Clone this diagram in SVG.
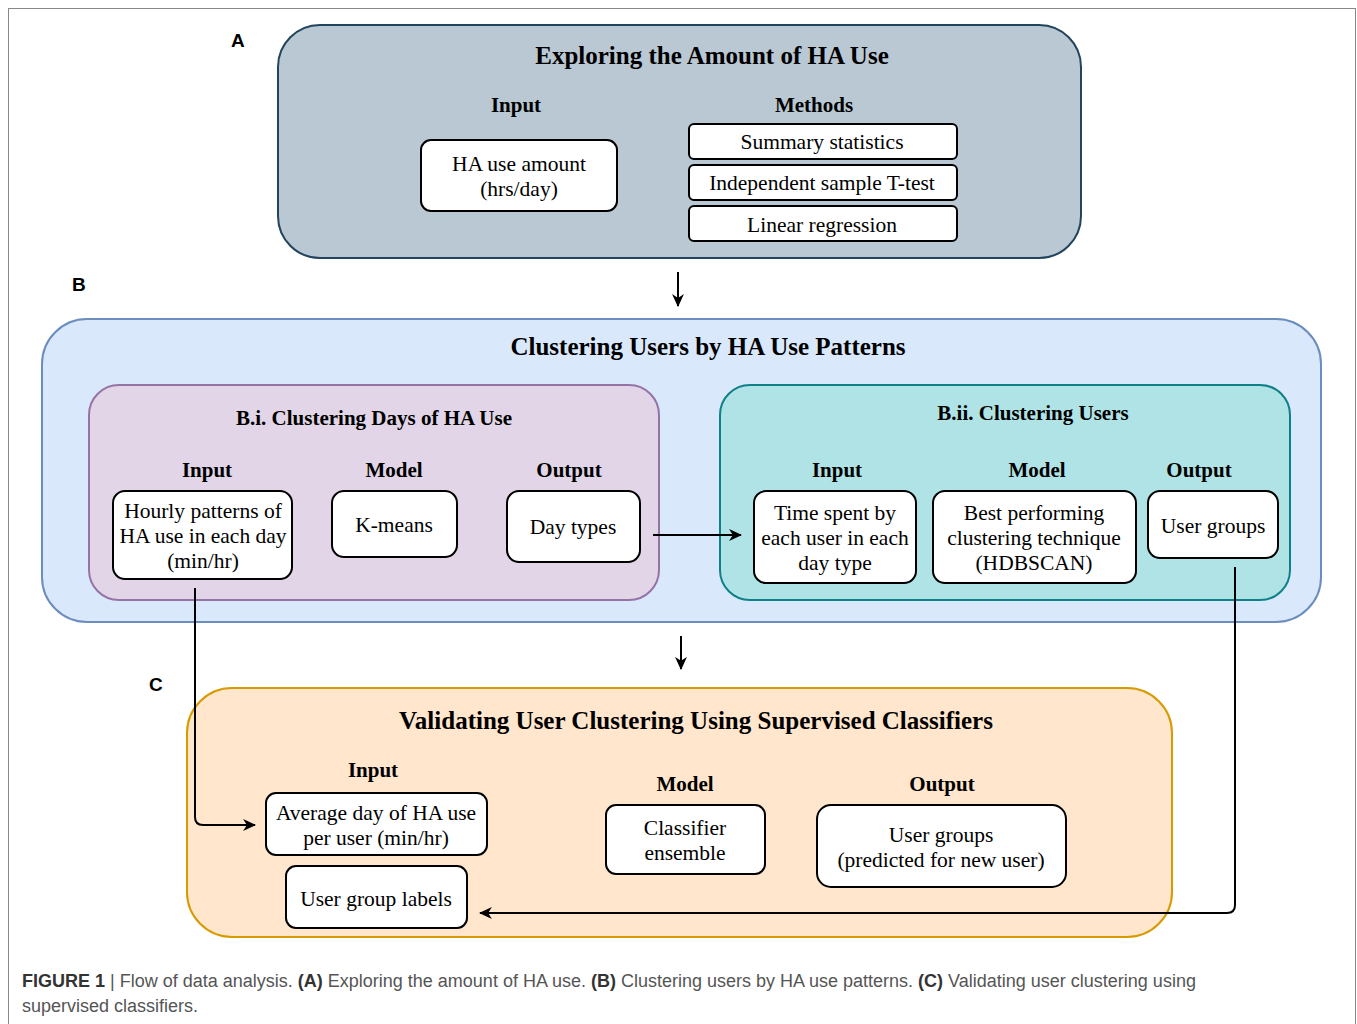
<svg xmlns="http://www.w3.org/2000/svg" width="1357" height="1024" viewBox="0 0 1357 1024">
<defs>
<marker id="ah" viewBox="0 0 12 12" refX="11" refY="6" markerWidth="13" markerHeight="13" markerUnits="userSpaceOnUse" orient="auto">
<path d="M0,0.5 L12,6 L0,11.5 L3.5,6 Z" fill="#000"/>
</marker>
<style>
.t{font-family:"Liberation Serif","Times New Roman",serif;fill:#000;text-anchor:middle}
.h1{font-size:25px;font-weight:bold}
.h2{font-size:21px;font-weight:bold}
.hd{font-size:21px;font-weight:bold}
.b{font-size:21.5px}
.box{fill:#fff;stroke:#000;stroke-width:2}
.lbl{font-family:"Liberation Sans",Arial,sans-serif;font-weight:bold;font-size:19px;fill:#000}
.cap{font-family:"Liberation Sans",Arial,sans-serif;font-size:18px;fill:#555}
.conn{fill:none;stroke:#000;stroke-width:2}
</style>
</defs>
<rect x="0" y="0" width="1357" height="1024" fill="#fff"/>
<rect x="8.5" y="8.5" width="1347" height="1030" fill="none" stroke="#888" stroke-width="1"/>

<text class="lbl" x="231" y="47">A</text>
<text class="lbl" x="72" y="291">B</text>
<text class="lbl" x="149" y="691">C</text>

<g id="groupA">
<rect x="278" y="25" width="803" height="233" rx="42" fill="#bac8d3" stroke="#23445d" stroke-width="2"/>
<text class="t h1" x="712" y="64">Exploring the Amount of HA Use</text>
<text class="t hd" x="516" y="112">Input</text>
<text class="t hd" x="814" y="112">Methods</text>
</g>
<g id="ha-use-amount">
<rect class="box" x="421" y="140" width="196" height="71" rx="10"/>
<text class="t b" x="519" y="171">HA use amount</text>
<text class="t b" x="519" y="196">(hrs/day)</text>
</g>
<g id="summary-statistics">
<rect class="box" x="689" y="124" width="268" height="35" rx="5"/>
<text class="t b" x="822" y="149">Summary statistics</text>
</g>
<g id="t-test">
<rect class="box" x="689" y="165" width="268" height="35" rx="5"/>
<text class="t b" x="822" y="190">Independent sample T-test</text>
</g>
<g id="linear-regression">
<rect class="box" x="689" y="206" width="268" height="35" rx="5"/>
<text class="t b" x="822" y="232">Linear regression</text>
</g>

<g id="groupB">
<rect x="42" y="319" width="1279" height="303" rx="45" fill="#dae8fc" stroke="#6c8ebf" stroke-width="2"/>
<text class="t h1" x="708" y="355">Clustering Users by HA Use Patterns</text>
</g>
<g id="groupBi">
<rect x="89" y="385" width="570" height="215" rx="30" fill="#e1d5e7" stroke="#9673a6" stroke-width="2"/>
<text class="t h2" x="374" y="425">B.i. Clustering Days of HA Use</text>
<text class="t hd" x="207" y="477">Input</text>
<text class="t hd" x="394" y="477">Model</text>
<text class="t hd" x="569" y="477">Output</text>
</g>
<g id="hourly-patterns">
<rect class="box" x="113" y="491" width="179" height="88" rx="12"/>
<text class="t b" x="203" y="518">Hourly patterns of</text>
<text class="t b" x="203" y="543">HA use in each day</text>
<text class="t b" x="203" y="568">(min/hr)</text>
</g>
<g id="k-means">
<rect class="box" x="332" y="491" width="125" height="66" rx="12"/>
<text class="t b" x="394" y="532">K-means</text>
</g>
<g id="day-types">
<rect class="box" x="507" y="491" width="133" height="71" rx="12"/>
<text class="t b" x="573" y="534">Day types</text>
</g>
<g id="groupBii">
<rect x="720" y="385" width="570" height="215" rx="30" fill="#b0e3e6" stroke="#0e8088" stroke-width="2"/>
<text class="t h2" x="1033" y="420">B.ii. Clustering Users</text>
<text class="t hd" x="837" y="477">Input</text>
<text class="t hd" x="1037" y="477">Model</text>
<text class="t hd" x="1199" y="477">Output</text>
</g>
<g id="time-spent">
<rect class="box" x="754" y="491" width="162" height="92" rx="12"/>
<text class="t b" x="835" y="520">Time spent by</text>
<text class="t b" x="835" y="545">each user in each</text>
<text class="t b" x="835" y="570">day type</text>
</g>
<g id="best-performing">
<rect class="box" x="933" y="491" width="203" height="92" rx="12"/>
<text class="t b" x="1034" y="520">Best performing</text>
<text class="t b" x="1034" y="545">clustering technique</text>
<text class="t b" x="1034" y="570">(HDBSCAN)</text>
</g>
<g id="user-groups">
<rect class="box" x="1148" y="491" width="130" height="67" rx="12"/>
<text class="t b" x="1213" y="533">User groups</text>
</g>

<g id="groupC">
<rect x="187" y="688" width="985" height="249" rx="45" fill="#ffe6cc" stroke="#d79b00" stroke-width="2"/>
<text class="t h1" x="696" y="729">Validating User Clustering Using Supervised Classifiers</text>
<text class="t hd" x="373" y="777">Input</text>
<text class="t hd" x="685" y="791">Model</text>
<text class="t hd" x="942" y="791">Output</text>
</g>
<g id="average-day">
<rect class="box" x="266" y="793" width="221" height="62" rx="10"/>
<text class="t b" x="376" y="820">Average day of HA use</text>
<text class="t b" x="376" y="845">per user (min/hr)</text>
</g>
<g id="user-group-labels">
<rect class="box" x="286" y="866" width="181" height="62" rx="10"/>
<text class="t b" x="376" y="906">User group labels</text>
</g>
<g id="classifier-ensemble">
<rect class="box" x="606" y="805" width="159" height="69" rx="10"/>
<text class="t b" x="685" y="835">Classifier</text>
<text class="t b" x="685" y="860">ensemble</text>
</g>
<g id="user-groups-predicted">
<rect class="box" x="817" y="805" width="249" height="82" rx="14"/>
<text class="t b" x="941" y="842">User groups</text>
<text class="t b" x="941" y="867">(predicted for new user)</text>
</g>

<g id="connectors">
<path class="conn" d="M678,272 L678,306" marker-end="url(#ah)"/>
<path class="conn" d="M681,636 L681,669" marker-end="url(#ah)"/>
<path class="conn" d="M653,535 L741,535" marker-end="url(#ah)"/>
<path class="conn" d="M195,588 L195,817 Q195,825 203,825 L255,825" marker-end="url(#ah)"/>
<path class="conn" d="M1235,567 L1235,905 Q1235,913 1227,913 L480,913" marker-end="url(#ah)"/>
</g>

<text class="cap" x="22" y="987"><tspan font-weight="bold" fill="#333">FIGURE 1</tspan> | Flow of data analysis. <tspan font-weight="bold" fill="#333">(A)</tspan> Exploring the amount of HA use. <tspan font-weight="bold" fill="#333">(B)</tspan> Clustering users by HA use patterns. <tspan font-weight="bold" fill="#333">(C)</tspan> Validating user clustering using</text>
<text class="cap" x="22" y="1012">supervised classifiers.</text>
</svg>
